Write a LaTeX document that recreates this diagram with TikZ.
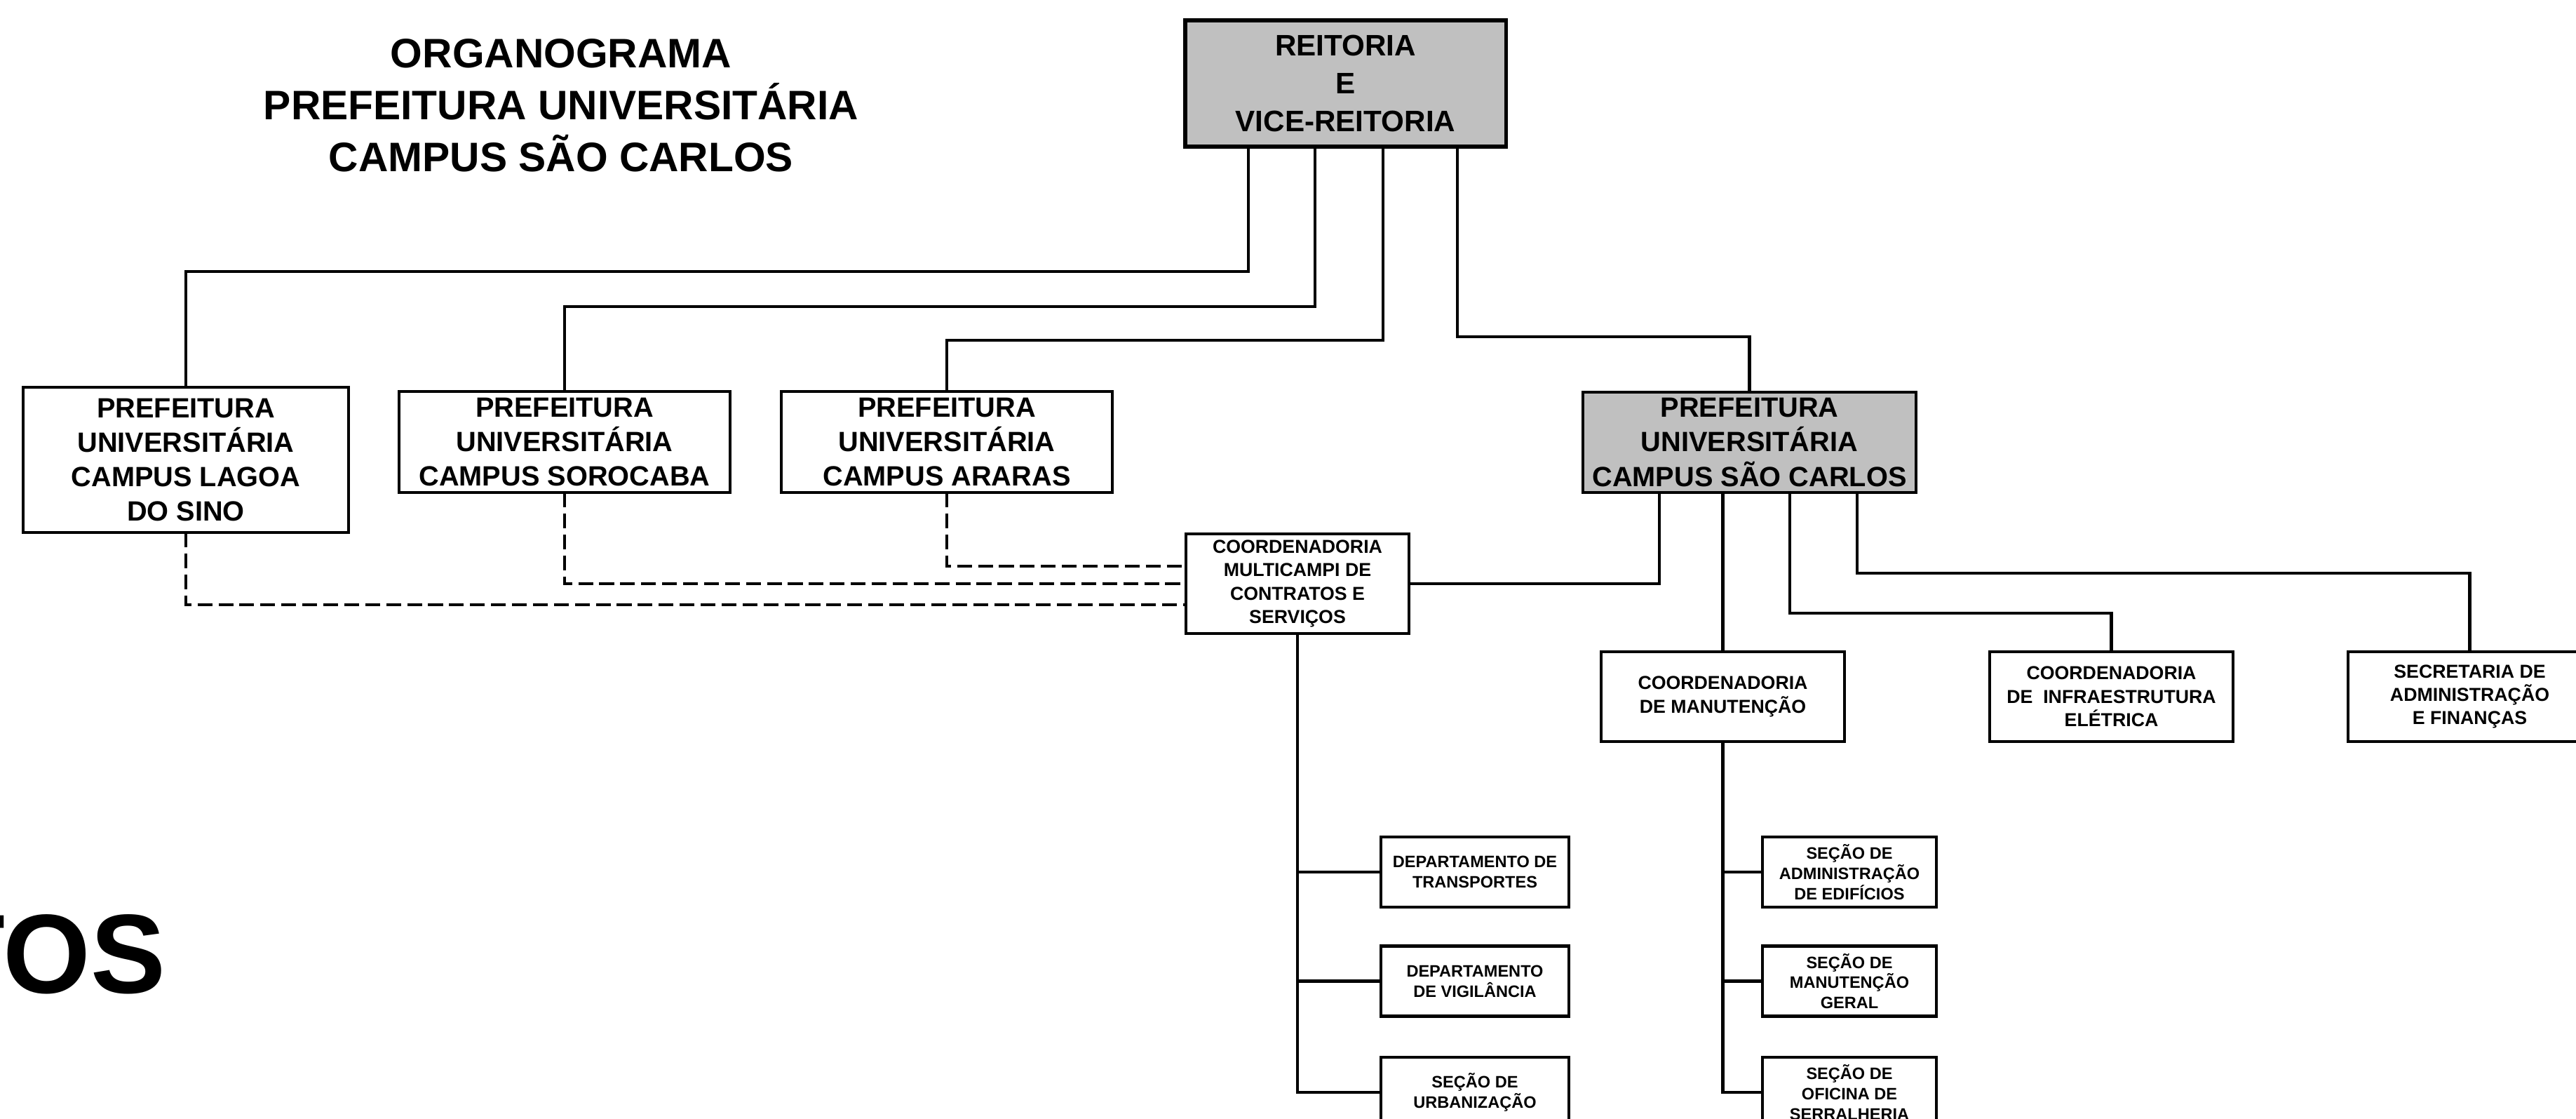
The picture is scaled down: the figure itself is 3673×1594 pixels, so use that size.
\documentclass[tikz,border=0pt]{standalone}
\usepackage{fontspec}
\setmainfont{Liberation Sans}
\definecolor{boxgray}{HTML}{C0C0C0}
\begin{document}
\begin{tikzpicture}[x=0.01cm,y=-0.01cm,
  box/.style={draw=black, line width=1.2pt, fill=white, rectangle, inner sep=0pt, outer sep=0pt, align=center,
    font=\bfseries\fontsize{11.3}{14}\selectfont},
  reitbox/.style={box, line width=1.5pt, fill=boxgray, font=\bfseries\fontsize{12}{15.4}\selectfont},
  gbox/.style={box, fill=boxgray},
  campbox/.style={box, minimum width=4.72cm, minimum height=1.44cm},
  midbox/.style={box, minimum width=3.47cm, minimum height=1.28cm, font=\bfseries\fontsize{7.6}{9.5}\selectfont},
  lowbox/.style={box, minimum height=1.0cm, font=\bfseries\fontsize{6.7}{8.2}\selectfont},
  conn/.style={draw=black, line width=1.2pt},
  dsh/.style={draw=black, line width=1.1pt, dash pattern=on 6pt off 2.5pt}
]
\useasboundingbox[fill=white] (0,0) rectangle (3673,1594);

% title
\node[inner sep=0pt, align=center, font=\bfseries\fontsize{16.7}{21}\selectfont] (title) at (800,150)
  {ORGANOGRAMA\\PREFEITURA UNIVERSITÁRIA\\CAMPUS SÃO CARLOS};

% big cut text
\node[anchor=base east, inner sep=0pt, font=\bfseries\fontsize{45.6}{50}\selectfont] (tos) at (237,1415) {TOS};

% boxes
\node[reitbox, minimum width=4.57cm, minimum height=1.80cm] (reit) at (1918.5,119) {REITORIA\\E\\VICE-REITORIA};
\node[box, minimum width=4.64cm, minimum height=2.07cm, font=\bfseries\fontsize{11.3}{13.9}\selectfont] (lagoa) at (265,655.5)
  {PREFEITURA\\UNIVERSITÁRIA\\CAMPUS LAGOA\\DO SINO};
\node[campbox] (soro) at (805,630) {PREFEITURA\\UNIVERSITÁRIA\\CAMPUS SOROCABA};
\node[campbox] (arar) at (1350,630) {PREFEITURA\\UNIVERSITÁRIA\\CAMPUS ARARAS};
\node[campbox, gbox, minimum width=4.75cm, minimum height=1.43cm] (sc) at (2494.5,630.5) {PREFEITURA\\UNIVERSITÁRIA\\CAMPUS SÃO CARLOS};

\node[midbox, minimum width=3.18cm, minimum height=1.42cm] (mc) at (1850,832) {COORDENADORIA\\MULTICAMPI DE\\CONTRATOS E\\SERVIÇOS};
\node[midbox] (man) at (2456.5,993) {COORDENADORIA\\DE MANUTENÇÃO};
\node[midbox] (infra) at (3010.5,993) {COORDENADORIA\\DE\ \ INFRAESTRUTURA\\ELÉTRICA};
\node[midbox] (sec) at (3521.5,993) {SECRETARIA DE\\ADMINISTRAÇÃO\\E FINANÇAS};

\node[lowbox, minimum width=2.68cm] (dt) at (2103,1243) {DEPARTAMENTO DE\\TRANSPORTES};
\node[lowbox, minimum width=2.68cm] (dv) at (2103,1398.5) {DEPARTAMENTO\\DE VIGILÂNCIA};
\node[lowbox, minimum width=2.68cm] (su) at (2103,1557) {SEÇÃO DE\\URBANIZAÇÃO};
\node[lowbox, minimum width=2.48cm] (s1) at (2637,1243) {SEÇÃO DE\\ADMINISTRAÇÃO\\DE EDIFÍCIOS};
\node[lowbox, minimum width=2.48cm] (s2) at (2637,1398.5) {SEÇÃO DE\\MANUTENÇÃO\\GERAL};
\node[lowbox, minimum width=2.48cm] (s3) at (2637,1557) {SEÇÃO DE\\OFICINA DE\\SERRALHERIA};

% connectors from reitoria
\draw[conn] ([xshift=-1.385cm]reit.south) -- ++(0,178) -| (lagoa.north);
\draw[conn] ([xshift=-0.435cm]reit.south) -- ++(0,228) -| (soro.north);
\draw[conn] ([xshift=0.535cm]reit.south) -- ++(0,276) -| (arar.north);
\draw[conn] ([xshift=1.595cm]reit.south) -- ++(0,271) -| (sc.north);

% dashed links to multicampi
\draw[dsh] (arar.south) |- ([yshift=0.25cm]mc.west);
\draw[dsh] (soro.south) |- (mc.west);
\draw[dsh] (lagoa.south) |- ([yshift=-0.30cm]mc.west);

% sao carlos children
\draw[conn] (mc.east) -| ([xshift=-1.285cm]sc.south);
\draw[conn] (man.north) -- (man.north |- sc.south);
\draw[conn] ([xshift=0.575cm]sc.south) -- ++(0,172) -| (infra.north);
\draw[conn] ([xshift=1.535cm]sc.south) -- ++(0,115) -| (sec.north);

% lower branches
\draw[conn] (mc.south) |- (dt.west);
\draw[conn] (mc.south) |- (dv.west);
\draw[conn] (mc.south) |- (su.west);
\draw[conn] (man.south) |- (s1.west);
\draw[conn] (man.south) |- (s2.west);
\draw[conn] (man.south) |- (s3.west);
\end{tikzpicture}
\end{document}
